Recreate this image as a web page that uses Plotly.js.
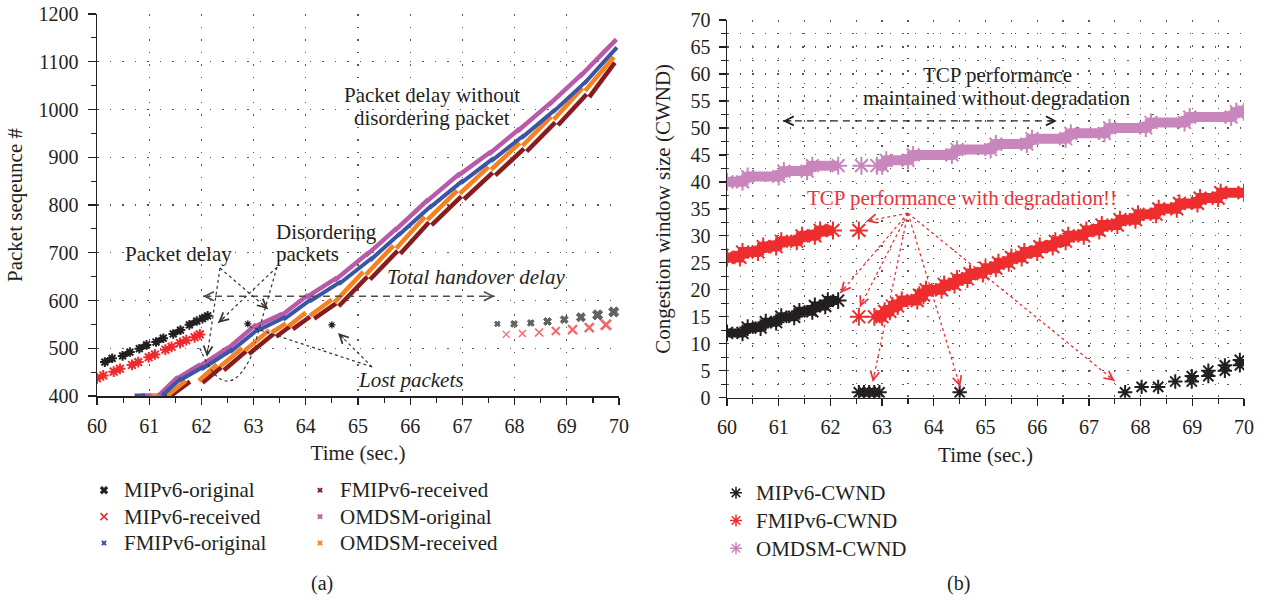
<!DOCTYPE html>
<html><head><meta charset="utf-8">
<script src="https://cdn.plot.ly/plotly-3.0.1.min.js"></script>
<style>html,body{margin:0;padding:0;background:#fff;}#chart{width:1261px;height:601px;}</style>
</head><body><div id="chart"></div>
<script>
// ---------------- DATA (a): packet sequence vs time ----------------
// MIPv6 original (before handover): short dashes, start/end pairs
const mipOrigX = [60.15,60.29,null,60.49,60.63,null,60.81,60.95,null,61.13,61.27,null,61.46,61.60,null,61.77,61.91,null,62.02,62.12];
const mipOrigY = [471,479,null,484,492,null,499,507,null,513,521,null,530,538,null,549,557,null,562,568];
// MIPv6 original after handover
const mipOrigLateX = [67.67,67.99,68.31,68.63,68.95,69.27,69.59,69.90];
const mipOrigLateY = [551,551,553,556,560,565,570,576];
// lost packets
const lostX = [62.89,64.50];
const lostY = [551,549];
// MIPv6 received
const mipRecvX = [60.00,60.12,null,60.32,60.44,null,60.67,60.79,null,60.99,61.11,null,61.31,61.43,null,61.59,61.71,null,61.87,61.97];
const mipRecvY = [437,443,null,451,457,null,465,471,null,481,487,null,497,503,null,511,517,null,523,529];
const mipRecvLateX = [67.84,68.15,68.47,68.79,69.11,69.43,69.75];
const mipRecvLateY = [529,531,533,536,539,543,549];
// OMDSM original
const omdsmOrigX = [60.85,61.05,null,61.18,61.55,null,61.50,61.98,null,61.93,62.52,null,62.47,63.05,null,63.00,63.55,null,63.50,64.05,null,64.00,64.60,null,64.55,65.20,null,65.15,65.75,null,65.70,66.35,null,66.30,66.95,null,66.90,67.55,null,67.50,68.10,null,68.05,68.70,null,68.65,69.30,null,69.25,69.95];
const omdsmOrigY = [401,401,null,401,440,null,434,466,null,460,502,null,496,550,null,544,572,null,566,612,null,606,648,null,642,700,null,694,752,null,746,812,null,806,866,null,860,912,null,906,960,null,954,1015,null,1009,1075,null,1069,1147];
// FMIPv6 original
const fmipOrigX = [60.72,60.92,null,61.25,61.62,null,61.57,62.05,null,62.00,62.60,null,62.55,63.12,null,63.07,63.62,null,63.57,64.12,null,64.07,64.68,null,64.63,65.28,null,65.23,65.82,null,65.77,66.42,null,66.37,67.02,null,66.97,67.60,null,67.55,68.18,null,68.13,68.78,null,68.73,69.38,null,69.33,69.96];
const fmipOrigY = [401,401,null,401,438,null,432,462,null,456,498,null,492,543,null,537,566,null,560,604,null,598,640,null,634,690,null,684,742,null,736,800,null,794,852,null,846,898,null,892,946,null,940,1000,null,994,1060,null,1054,1130];
// OMDSM received
const omdsmRecvX = [61.05,61.25,null,61.35,61.70,null,61.95,62.30,null,62.36,62.78,null,62.83,63.30,null,63.35,63.62,null,63.67,64.00,null,64.08,64.50,null,64.55,65.10,null,65.15,65.68,null,65.73,66.28,null,66.33,66.90,null,66.95,67.50,null,67.55,68.10,null,68.15,68.70,null,68.75,69.30,null,69.35,69.90];
const omdsmRecvY = [401,401,null,401,432,null,432,466,null,462,500,null,495,538,null,533,552,null,546,575,null,568,602,null,596,660,null,654,715,null,709,775,null,769,830,null,824,880,null,874,930,null,924,985,null,979,1045,null,1039,1110];
// FMIPv6 received
const fmipRecvX = [61.15,61.35,null,61.42,61.78,null,62.02,62.38,null,62.43,62.86,null,62.91,63.38,null,63.43,63.70,null,63.75,64.08,null,64.16,64.58,null,64.63,65.18,null,65.23,65.76,null,65.81,66.36,null,66.41,66.98,null,67.03,67.58,null,67.63,68.18,null,68.23,68.78,null,68.83,69.38,null,69.43,69.92];
const fmipRecvY = [401,401,null,401,430,null,428,460,null,454,494,null,488,530,null,524,546,null,540,566,null,562,594,null,588,650,null,644,704,null,698,764,null,758,818,null,812,868,null,862,918,null,912,973,null,967,1032,null,1026,1098];

// ---------------- DATA (b): congestion window ----------------
const mipCwndX = [60.00,60.30,60.40,60.65,60.75,60.95,61.05,61.30,61.40,61.65,61.70,61.90,61.95,62.15];
const mipCwndY = [12,12,13,13,14,14,15,15,16,16,17,17,18,18];
const mipCwndLateX = [62.55,62.65,62.75,62.85,62.95,64.50,67.70,68.02,68.34,68.67,68.99,68.99,69.31,69.31,69.63,69.63,69.92,69.92];
const mipCwndLateY = [1,1,1,1,1,1,1,2,2,3,3,4,4,5,5,6,6,7];

const fmipCwndX1 = [60.00,60.25,60.30,60.60,60.70,60.95,61.05,61.35,61.45,61.70,61.80,62.05];
const fmipCwndY1 = [26,26,27,27,28,28,29,29,30,30,31,31];
const fmipCwndSingleX = [62.55,62.55];
const fmipCwndSingleY = [31,15];
const fmipCwndX2 = [62.85,63.00,63.05,63.15,63.20,63.30,63.38,63.68,63.72,63.80,63.85,64.15,64.20,64.40,64.45,64.65,64.70,64.95,65.00,65.20,65.25,65.45,65.50,65.70,65.75,66.00,66.05,66.30,66.35,66.55,66.60,66.90,66.95,67.20,67.25,67.55,67.60,67.90,67.95,68.30,68.35,68.70,68.75,69.10,69.15,69.50,69.55,70.00];
const fmipCwndY2 = [15,15,16,16,17,17,18,18,19,19,20,20,21,21,22,22,23,23,24,24,25,25,26,26,27,27,28,28,29,29,30,30,31,31,32,32,33,33,34,34,35,35,36,36,37,37,38,38];

const omdsmCwndX1 = [60.00,60.30,60.40,61.00,61.10,61.55,61.65,62.15];
const omdsmCwndY1 = [40,40,41,41,42,42,43,43];
const omdsmCwndSingleX = [62.60];
const omdsmCwndSingleY = [43];
const omdsmCwndX2 = [62.90,63.00,63.08,63.50,63.60,64.35,64.45,65.10,65.20,65.80,65.90,66.55,66.65,67.30,67.40,68.10,68.20,68.85,68.95,69.75,69.85,70.00];
const omdsmCwndY2 = [43,43,44,44,45,45,46,46,47,47,48,48,49,49,50,50,51,51,52,52,53,53];

const legendA1 = ['MIPv6-original','MIPv6-received','FMIPv6-original'];
const legendA2 = ['FMIPv6-received','OMDSM-original','OMDSM-received'];
const legendB = ['MIPv6-CWND','FMIPv6-CWND','OMDSM-CWND'];

// ---------------- STYLE ----------------
const INK = '#231f20';
const FONT = 'Liberation Serif, Times New Roman, serif';
const C = {black:INK, red:'#ee2a2e', blue:'#3b55a5', maroon:'#8a1b1d', purple:'#b95aa8', orange:'#f5821f', pink:'#c986bd', redc:'#ee2d2f'};
const W = 1261, H = 601;
const px = x => x / W, py = y => 1 - y / H;
const big = n => '<span style="font-size:21px">' + n + '</span>';

const skip = {hoverinfo:'skip', showlegend:false};
const traces = [];
// (a) drawn traces
traces.push(Object.assign({x:fmipRecvX, y:fmipRecvY, mode:'lines', line:{color:C.maroon, width:4.5}}, skip));
traces.push(Object.assign({x:omdsmRecvX, y:omdsmRecvY, mode:'lines', line:{color:C.orange, width:4.5}}, skip));
traces.push(Object.assign({x:omdsmOrigX, y:omdsmOrigY, mode:'lines', line:{color:C.purple, width:4.5}}, skip));
traces.push(Object.assign({x:fmipOrigX, y:fmipOrigY, mode:'lines', line:{color:C.blue, width:4}}, skip));
traces.push(Object.assign({x:mipOrigX, y:mipOrigY, mode:'lines+markers', line:{color:C.black, width:6}, marker:{symbol:'asterisk-open', size:8, color:C.black, line:{color:C.black, width:2}}}, skip));
traces.push(Object.assign({x:mipRecvX, y:mipRecvY, mode:'lines+markers', line:{color:C.red, width:5}, marker:{symbol:'asterisk-open', size:9, color:C.red, line:{color:C.red, width:2}}}, skip));
traces.push(Object.assign({x:mipOrigLateX, y:mipOrigLateY, mode:'markers', marker:{symbol:'x', size:[5,6,6,7,7,8,9,9], color:C.black, line:{color:C.black, width:1}}}, skip));
traces.push(Object.assign({x:mipRecvLateX, y:mipRecvLateY, mode:'markers', marker:{symbol:'x-thin-open', size:[7,7,8,8,9,9,10], color:C.red, line:{color:C.red, width:[1.3,1.5,1.7,2,2.2,2.5,2.8]}}}, skip));
traces.push(Object.assign({x:lostX, y:lostY, mode:'markers', marker:{symbol:'asterisk-open', size:6, color:C.black, line:{color:C.black, width:1.2}}}, skip));

// (a) legend entries
const legA1Style = [
  {symbol:'x', size:7, color:C.black, line:{color:C.black, width:0.5}},
  {symbol:'x-thin-open', size:7, color:C.red, line:{color:C.red, width:1.5}},
  {symbol:'x', size:5, color:C.blue}];
const legA2Style = [
  {symbol:'x', size:5, color:C.maroon},
  {symbol:'x', size:5, color:C.purple},
  {symbol:'x', size:5, color:C.orange}];
legendA1.forEach((n,i)=>traces.push({x:[null], y:[null], mode:'markers', name:big(n), marker:legA1Style[i], legend:'legend', hoverinfo:'skip'}));
legendA2.forEach((n,i)=>traces.push({x:[null], y:[null], mode:'markers', name:big(n), marker:legA2Style[i], legend:'legend2', hoverinfo:'skip'}));

// (b) drawn traces
const ast = (col, s) => ({symbol:'asterisk-open', size:s, color:col, line:{color:col, width:2}});
const b = {xaxis:'x2', yaxis:'y2'};
traces.push(Object.assign({x:[...omdsmCwndX1, null, ...omdsmCwndSingleX, null, ...omdsmCwndX2], y:[...omdsmCwndY1, null, ...omdsmCwndSingleY, null, ...omdsmCwndY2], mode:'lines+markers', line:{color:C.pink, width:10}, marker:ast(C.pink,15)}, b, skip));
traces.push(Object.assign({x:[...fmipCwndX1, null, fmipCwndSingleX[0], null, fmipCwndSingleX[1], null, ...fmipCwndX2], y:[...fmipCwndY1, null, fmipCwndSingleY[0], null, fmipCwndSingleY[1], null, ...fmipCwndY2], mode:'lines+markers', line:{color:C.redc, width:10}, marker:ast(C.redc,15)}, b, skip));
traces.push(Object.assign({x:mipCwndX, y:mipCwndY, mode:'lines+markers', line:{color:C.black, width:9}, marker:ast(C.black,14)}, b, skip));
traces.push(Object.assign({x:mipCwndLateX, y:mipCwndLateY, mode:'markers', marker:ast(C.black,12)}, b, skip));
const legBCol = [C.black, C.redc, C.pink];
legendB.forEach((n,i)=>traces.push(Object.assign({x:[null], y:[null], mode:'markers', name:big(n), marker:{symbol:'asterisk-open', size:10, color:legBCol[i], line:{color:legBCol[i], width:1.5}}, legend:'legend3', hoverinfo:'skip'}, b)));

// ---------------- AXES ----------------
const tickFont = {family:FONT, size:20, color:INK};
const titleFont = {family:FONT, size:21, color:INK};
const gridDash = '1.5px,11px';
function xAxis(domain, anchor, minorGrid){
  return {domain, anchor, range:[60,70], tickmode:'linear', tick0:60, dtick:1, ticks:'outside', ticklen:7, tickwidth:1.3, tickcolor:INK,
    showline:true, linecolor:INK, linewidth:1.5, zeroline:false, tickfont:tickFont, ticklabelstandoff:4,
    showgrid:true, gridcolor:'#555', griddash:gridDash, gridwidth:1.2,
    minor:{dtick:0.5, ticks:'outside', ticklen:5, tickwidth:1.2, tickcolor:INK, showgrid:minorGrid, gridcolor:'#555', griddash:gridDash, gridwidth:1.2},
    title:{text:'Time (sec.)', font:titleFont, standoff:10}, fixedrange:true};
}
const legFont = {family:FONT, size:18, color:INK};
const layout = {
  width:W, height:H, margin:{l:0,r:0,t:0,b:0}, paper_bgcolor:'#fff', plot_bgcolor:'#fff',
  font:{family:FONT, color:INK},
  xaxis: xAxis([97/W, 619/W], 'y', false),
  xaxis2: xAxis([727/W, 1244/W], 'y2', true),
  yaxis:{domain:[205/H, 587/H], anchor:'x', range:[400,1200], tickmode:'linear', tick0:400, dtick:100, ticks:'outside', ticklen:8, tickwidth:1.3, tickcolor:INK,
    showline:true, linecolor:INK, linewidth:1.5, zeroline:false, tickfont:tickFont, ticklabelstandoff:5,
    showgrid:true, gridcolor:'#555', griddash:gridDash, gridwidth:1.2,
    minor:{dtick:50, ticks:'outside', ticklen:5, tickwidth:1.2, tickcolor:INK, showgrid:false},
    title:{text:'Packet seqeunce #', font:titleFont, standoff:10}, fixedrange:true},
  yaxis2:{domain:[203.3/H, 581/H], anchor:'x2', range:[0,70], tickmode:'linear', tick0:0, dtick:5, ticks:'outside', ticklen:7, tickwidth:1.3, tickcolor:INK,
    showline:true, linecolor:INK, linewidth:1.5, zeroline:false, tickfont:tickFont, ticklabelstandoff:4,
    showgrid:true, gridcolor:'#555', griddash:gridDash, gridwidth:1.2,
    minor:{dtick:2.5, ticks:'outside', ticklen:5, tickwidth:1.2, tickcolor:INK, showgrid:true, gridcolor:'#555', griddash:gridDash, gridwidth:1.2},
    title:{text:'Congestion window size (CWND)', font:titleFont, standoff:14}, fixedrange:true},
  legend:{x:px(84), y:py(472), xanchor:'left', yanchor:'top', bgcolor:'rgba(0,0,0,0)', font:legFont, tracegroupgap:0},
  legend2:{x:px(300), y:py(472), xanchor:'left', yanchor:'top', bgcolor:'rgba(0,0,0,0)', font:legFont, tracegroupgap:0},
  legend3:{x:px(716), y:py(474), xanchor:'left', yanchor:'top', bgcolor:'rgba(0,0,0,0)', font:{family:FONT, size:19, color:INK}, tracegroupgap:0},
  shapes:[], annotations:[]
};

// ---------------- ANNOTATIONS ----------------
const txt = (t, x, y, opts) => Object.assign({text:t, xref:'paper', yref:'paper', x:px(x), y:py(y), showarrow:false, xanchor:'center', yanchor:'middle', font:{family:FONT, size:21, color:INK}}, opts||{});
layout.annotations.push(
  txt('Packet delay', 178, 254),
  txt('Disordering', 274, 232, {xanchor:'left'}),
  txt('packets', 274, 254, {xanchor:'left'}),
  txt('Packet delay without', 432, 95),
  txt('disordering packet', 432, 118),
  txt('<i>Total handover delay</i>', 476, 277),
  txt('<i>Lost packets</i>', 410, 380),
  txt('TCP performance', 997, 75),
  txt('maintained without degradation', 997, 98),
  txt('TCP performance with degradation!!', 962, 198, {font:{family:FONT, size:21, color:'#ee3338'}}),
  txt('(a)', 322, 583, {font:{family:FONT, size:20, color:INK}}),
  txt('(b)', 958, 583, {font:{family:FONT, size:20, color:INK}})
);
function head(xr, yr, x, y, ax, ay, col){
  layout.annotations.push({xref:xr, yref:yr, x, y, ax, ay, text:'', showarrow:true, arrowhead:5, arrowsize:1.6, arrowwidth:1.1, arrowcolor:col});
}
function seg(xr, yr, x0, y0, x1, y1, col, dash, w){
  layout.shapes.push({type:'line', xref:xr, yref:yr, x0, y0, x1, y1, line:{color:col, dash:dash, width:w||1.3}});
}
// (a) handover double arrow
seg('x','y', 62.03, 609, 67.62, 609, '#4d4d4d', '7px,5px', 1.5);
head('x','y', 62.03, 609, 10, 0, '#4d4d4d');
head('x','y', 67.62, 609, -10, 0, '#4d4d4d');
// (a) dotted callouts
const dotA = '#333';
seg('x','y', 62.356, 668, 63.276, 582, dotA, 'dot', 1.2);
seg('x','y', 62.356, 668, 62.107, 482, dotA, 'dot', 1.2);
seg('x','y', 63.448, 670, 62.318, 553, dotA, 'dot', 1.2);
seg('x','y', 63.448, 670, 63.03, 511, dotA, 'dot', 1.2);
seg('x','y', 65.268, 461, 62.931, 545, dotA, 'dot', 1.2);
seg('x','y', 65.268, 461, 64.617, 532, dotA, 'dot', 1.2);
layout.shapes.push({type:'path', xref:'x', yref:'y', path:'M 61.97,500 Q 62.51,359 63.05,507', line:{color:dotA, dash:'dot', width:1.2}});
head('x','y', 63.276, 582, -8, -7, dotA);
head('x','y', 62.107, 482, 1, -10, dotA);
head('x','y', 62.318, 553, 8, -7, dotA);
head('x','y', 64.617, 532, 7, 7, dotA);
// (b) double arrow
seg('x2','y2', 61.08, 51.3, 66.38, 51.3, INK, '7px,5px', 1.3);
head('x2','y2', 61.08, 51.3, 10, 0, INK);
head('x2','y2', 66.38, 51.3, -10, 0, INK);
// (b) red dotted callouts from one source
const RD = '#e8343a';
const src = [63.5, 34.2];
const tgt = [[62.69,32.7,8,-2],[62.19,19.4,6,-7],[62.57,16.8,4,-9],[62.82,2.9,2,-10],[64.51,2.0,-3,-10],[67.50,3.1,-8,-6]];
tgt.forEach(t=>{ seg('x2','y2', src[0], src[1], t[0], t[1], RD, 'dot', 1.3); head('x2','y2', t[0], t[1], t[2], t[3], RD); });

Plotly.newPlot('chart', traces, layout, {displayModeBar:false, staticPlot:true});
</script></body></html>
